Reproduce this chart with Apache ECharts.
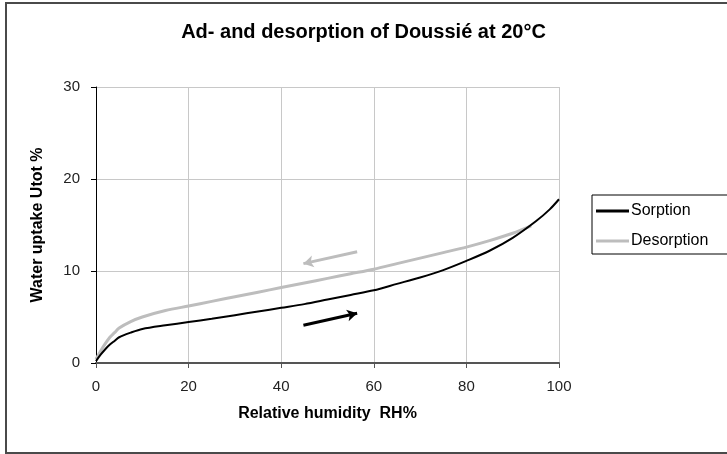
<!DOCTYPE html>
<html>
<head>
<meta charset="utf-8">
<title>Ad- and desorption of Doussié at 20°C</title>
<script src="https://cdn.jsdelivr.net/npm/echarts@6/dist/echarts.min.js"></script>
<style>
  html, body { margin: 0; padding: 0; background: #fff; }
  #chart { width: 727px; height: 454px; }
</style>
</head>
<body>
<div id="chart"></div>
<script>
// Sorption isotherm (relative humidity %, water uptake %)
const sorptionRH     = [0, 1, 2, 3, 4, 5, 7.5, 10, 15, 20, 25, 30, 35, 40, 45, 50, 55, 60, 65, 70, 75, 80, 85, 90, 95, 98, 100];
const sorptionUptake = [0.2, 0.9, 1.5, 2.0, 2.4, 2.8, 3.3, 3.7, 4.1, 4.45, 4.8, 5.2, 5.6, 6.0, 6.4, 6.9, 7.4, 7.9, 8.6, 9.3, 10.1, 11.1, 12.2, 13.6, 15.4, 16.7, 17.8];

// Desorption isotherm
const desorptionRH     = [0, 1, 2, 3, 4, 5, 7.5, 10, 15, 20, 25, 30, 35, 40, 45, 50, 55, 60, 65, 70, 75, 80, 85, 90, 94];
const desorptionUptake = [0.4, 1.3, 2.1, 2.8, 3.3, 3.8, 4.5, 5.0, 5.7, 6.2, 6.7, 7.2, 7.7, 8.2, 8.7, 9.2, 9.7, 10.2, 10.8, 11.4, 12.0, 12.6, 13.3, 14.1, 14.9];

// Direction arrows: [start, end] in data units
const sorptionArrow   = [[44.8, 4.1], [56.4, 5.4]];
const desorptionArrow = [[56.4, 12.1], [44.8, 10.8]];

const xTicks = { min: 0, max: 100, interval: 20 };
const yTicks = { min: 0, max: 30, interval: 10 };

const seriesNames = ['Sorption', 'Desorption'];

const FONT = '"Liberation Sans", Arial, sans-serif';

function pairs(xs, ys) { return xs.map((x, i) => [x, ys[i]]); }
function arrowLine(seg) { return [[{ coord: seg[0] }, { coord: seg[1] }]]; }

const chart = echarts.init(document.getElementById('chart'), null, { renderer: 'canvas' });

chart.setOption({
  backgroundColor: '#fff',
  animation: false,
  title: {
    text: 'Ad- and desorption of Doussié at 20°C',
    left: 'center',
    top: 17,
    textStyle: { fontFamily: FONT, fontSize: 20, fontWeight: 'bold', color: '#000' }
  },
  legend: {
    data: seriesNames.map(n => ({ name: n, icon: 'rect' })),
    orient: 'vertical',
    left: 592,
    top: 195,
    padding: [8, 24, 5, 4],
    itemGap: 14,
    itemWidth: 33,
    itemHeight: 3,
    borderColor: '#000',
    borderWidth: 1,
    textStyle: { fontFamily: FONT, fontSize: 16, color: '#000', padding: [0, 0, 0, -3] }
  },
  grid: { left: 96, right: 168, top: 87, bottom: 91, containLabel: false },
  xAxis: {
    type: 'value',
    min: xTicks.min, max: xTicks.max, interval: xTicks.interval,
    name: 'Relative humidity  RH%',
    nameLocation: 'middle',
    nameGap: 43,
    nameTextStyle: { fontFamily: FONT, fontSize: 16, fontWeight: 'bold', color: '#000' },
    axisLine: { show: true, onZero: false, lineStyle: { color: '#555', width: 2 } },
    axisTick: { show: true, inside: false, length: 5, lineStyle: { color: '#555' } },
    axisLabel: { margin: 16, fontFamily: FONT, fontSize: 15, color: '#222' },
    splitLine: { show: true, lineStyle: { color: '#c8c8c8', width: 1 } }
  },
  yAxis: {
    type: 'value',
    min: yTicks.min, max: yTicks.max, interval: yTicks.interval,
    name: 'Water uptake Utot %',
    nameLocation: 'middle',
    nameGap: 50,
    nameTextStyle: { fontFamily: FONT, fontSize: 16, fontWeight: 'bold', color: '#000' },
    axisLine: { show: true, onZero: false, lineStyle: { color: '#000', width: 1 } },
    axisTick: { show: true, inside: false, length: 5, lineStyle: { color: '#000' } },
    axisLabel: { margin: 16, fontFamily: FONT, fontSize: 15, color: '#222' },
    splitLine: { show: true, lineStyle: { color: '#c8c8c8', width: 1 } }
  },
  series: [
    {
      name: seriesNames[0],
      type: 'line',
      data: pairs(sorptionRH, sorptionUptake),
      smooth: 0.3,
      showSymbol: false,
      symbol: 'none',
      z: 3,
      lineStyle: { color: '#000', width: 2 },
      itemStyle: { color: '#000' },
      markLine: {
        silent: true,
        symbol: ['none', 'arrow'],
        symbolSize: [9, 10],
        label: { show: false },
        lineStyle: { color: '#000', width: 3, type: 'solid' },
        data: arrowLine(sorptionArrow)
      }
    },
    {
      name: seriesNames[1],
      type: 'line',
      data: pairs(desorptionRH, desorptionUptake),
      smooth: 0.3,
      showSymbol: false,
      symbol: 'none',
      z: 2,
      lineStyle: { color: '#bdbdbd', width: 3 },
      itemStyle: { color: '#bdbdbd' },
      markLine: {
        silent: true,
        symbol: ['none', 'arrow'],
        symbolSize: [9, 10],
        label: { show: false },
        lineStyle: { color: '#bdbdbd', width: 3, type: 'solid' },
        data: arrowLine(desorptionArrow)
      }
    }
  ],
  graphic: [
    {
      type: 'rect',
      silent: true,
      shape: { x: 6, y: 3, width: 760, height: 450 },
      style: { fill: 'none', stroke: '#4a4a4a', lineWidth: 2 }
    }
  ]
});
</script>
</body>
</html>
